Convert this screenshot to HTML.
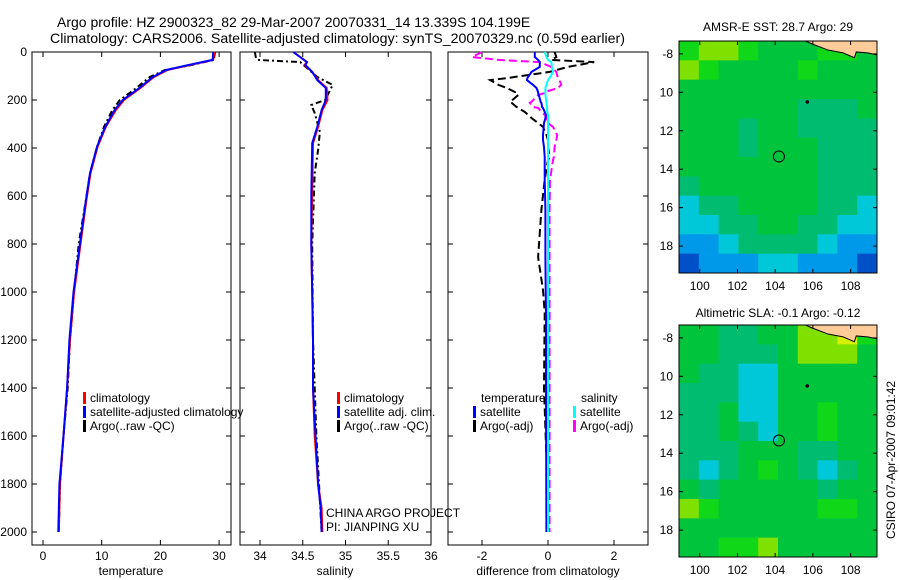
<!DOCTYPE html>
<html><head><meta charset="utf-8"><style>
body{margin:0;background:#fff}
svg{display:block;font-family:"Liberation Sans",sans-serif}
text{font-size:12px;fill:#000}
</style></head><body>
<svg id="fig" width="900" height="580" viewBox="0 0 900 580">
<text x="57" y="27" style="font-size:14px">Argo profile: HZ 2900323_82 29-Mar-2007 20070331_14 13.339S 104.199E</text>
<text x="50" y="43" textLength="575" lengthAdjust="spacingAndGlyphs" style="font-size:14px">Climatology: CARS2006. Satellite-adjusted climatology: synTS_20070329.nc (0.59d earlier)</text>
<text x="778" y="31" text-anchor="middle">AMSR-E SST: 28.7 Argo: 29</text>
<text x="778" y="317" text-anchor="middle">Altimetric SLA: -0.1 Argo: -0.12</text>
<text transform="translate(895,460) rotate(-90)" text-anchor="middle">CSIRO 07-Apr-2007 09:01:42</text>
<g id="plots"></g>
</svg>
<script>
// ---- profile data ----
const depthT = [0,33,54,75,104,150,200,242,312,395,505,617,797,1000,1200,1400,1600,1800,2000];
const tempClim = [29.2,29.0,25.0,21.2,18.9,16.6,13.8,12.4,10.7,9.3,8.1,7.4,6.4,5.3,4.6,4.1,3.5,2.9,2.7];
const tempSat  = [29.0,28.9,24.8,21.0,18.7,16.4,13.6,12.2,10.6,9.2,8.0,7.3,6.3,5.2,4.5,4.1,3.5,2.8,2.6];
const depthArgoT = [0,33,54,75,104,150,200,242,312,395,505,617,797,1000,1200,1400,1600,1800,2000];
const tempArgo = [29.3,29.1,25.3,20.8,18.2,15.9,13.1,11.8,10.4,9.2,8.0,7.3,6.1,5.3,4.6,4.2,3.5,2.9,2.7];

const depthS = [0,42,54,83,117,150,200,242,312,380,600,800,1000,1200,1400,1600,1800,1900,2000];
const salClim = [34.39,34.55,34.52,34.61,34.68,34.78,34.79,34.73,34.68,34.62,34.61,34.60,34.61,34.62,34.62,34.64,34.68,34.72,34.73];
const salSat  = [34.39,34.55,34.53,34.61,34.67,34.77,34.77,34.72,34.67,34.61,34.60,34.60,34.61,34.62,34.62,34.65,34.68,34.71,34.72];
const depthArgoS = [0,20,33,42,104,137,187,200,221,254,333,408,505,800,1200,1600,2000];
const salArgo = [33.94,33.95,33.97,34.47,34.67,34.85,34.78,34.76,34.60,34.64,34.70,34.68,34.64,34.61,34.62,34.66,34.72];

const depthD = [0,21,33,42,62,83,108,117,137,150,167,171,179,208,212,229,233,250,262,275,296,312,346,367,396,437,450,533,658,854,992,1087,1400,2000];
const dTsat  = [-0.4,-0.4,-0.3,-0.25,-0.25,-0.5,-0.62,-0.64,-0.45,-0.35,-0.3,-0.3,-0.28,-0.22,-0.2,-0.18,-0.15,-0.1,-0.06,-0.08,-0.12,-0.13,-0.15,-0.15,-0.12,-0.1,-0.1,-0.1,-0.08,-0.08,-0.07,-0.06,-0.06,-0.05];
const dTargo = [0.2,0.25,0.1,1.4,0.6,0.05,-1.2,-1.75,-1.5,-1.25,-1.0,-1.0,-0.9,-1.15,-1.1,-0.95,-0.9,-0.7,-0.6,-0.5,-0.3,-0.15,-0.05,0.0,0.0,0.05,0.0,-0.1,-0.2,-0.3,-0.15,-0.1,-0.12,0.03];
const dSsat  = [-0.1,-0.05,0.0,0.1,0.12,0.15,0.05,0.0,-0.05,-0.08,-0.08,-0.08,-0.08,-0.05,-0.05,-0.03,-0.03,-0.02,0.0,0.0,0.0,0.0,0.0,0.0,0.0,0.0,0.0,0.0,0.0,0.0,0.0,0.0,0.0,0.0];
const dSargo = [-2.0,-2.3,-1.5,-0.25,0.1,0.25,0.3,0.35,0.4,0.3,-0.1,-0.1,-0.3,-0.5,-0.55,-0.45,-0.3,-0.2,-0.1,-0.05,0.0,0.15,0.28,0.25,0.2,0.18,0.15,0.06,0.05,0.05,0.05,0.05,0.05,0.05];

const tempTicks = [0,10,20,30];
const salTicks = ["34","34.5","35","35.5","36"];
const diffTicks = [-2,0,2];
const depthTicks = [0,200,400,600,800,1000,1200,1400,1600,1800,2000];
const lonTicks = [100,102,104,106,108];
const latTicks = [-8,-10,-12,-14,-16,-18];

// ---- map data (palette indices, rows from north to south) ----
const mapPalette = ["#0050c8","#0098e8","#00c8d8","#00bc70","#00c53c","#10d818","#80e000","#d8f000"];
const sstGrid = [
[5,6,6,5,4,4,4,5,5,4],[6,5,4,4,4,4,5,4,4,4],[4,4,4,4,4,4,4,4,4,4],[4,4,4,4,4,4,3,3,3,4],
[4,4,4,3,4,4,3,3,3,3],[4,4,4,3,4,4,4,3,3,3],[4,4,4,4,4,4,4,3,3,3],[3,4,4,4,4,4,4,3,3,3],
[2,3,3,4,4,4,4,3,3,2],[2,2,3,3,4,4,3,3,2,2],[1,1,2,3,3,3,3,2,1,1],[0,1,1,1,2,2,1,1,1,0]];
const slaGrid = [
[4,4,3,3,4,4,6,6,7,5],[4,4,3,3,3,4,6,6,6,4],[4,3,3,2,2,4,4,4,4,4],[3,3,3,2,2,4,4,4,4,4],
[3,3,4,2,2,4,4,5,4,4],[3,3,4,3,2,4,4,5,4,4],[3,3,3,4,4,4,3,3,4,4],[3,2,3,4,5,4,3,2,3,4],
[4,3,4,4,4,4,4,3,4,4],[6,5,4,4,4,4,4,5,5,4],[4,4,4,4,4,4,4,4,4,4],[4,4,5,5,6,4,4,4,4,4]];
const argoLon = 104.199, argoLat = -13.339;

const NS="http://www.w3.org/2000/svg";
const root=document.getElementById('plots');
function mk(tag,attrs,parent){const e=document.createElementNS(NS,tag);for(const k in attrs)e.setAttribute(k,attrs[k]);(parent||root).appendChild(e);return e;}
function txt(x,y,s,anchor,parent){const t=mk('text',{x:x,y:y,'text-anchor':anchor||'start'},parent);t.textContent=s;return t;}

const Y0=52, YS=0.24; const yD=d=>Y0+d*YS;
const panels=[
 {x0:32,x1:231,xf:v=>43+v*5.87,name:'temperature'},
 {x0:240,x1:431,xf:v=>260+(v-34)*85.5,name:'salinity'},
 {x0:448,x1:648,xf:v=>548+v*33,name:'difference'}];
const AXB=545;

function line(xs,ds,xf,color,dash,name,g){
  let p=xs.map((v,i)=>(i?'L':'M')+xf(v).toFixed(1)+','+yD(ds[i]).toFixed(1)).join('');
  const e=mk('path',{d:p,fill:'none',stroke:color,'stroke-width':2,'stroke-dasharray':dash||'none'},g);
  
  
}

panels.forEach((P,pi)=>{
  const g=mk('g',{});
  
  
  const ax=mk('rect',{x:P.x0,y:Y0,width:P.x1-P.x0,height:AXB-Y0,fill:'#fff',stroke:'#000','stroke-width':1},g);
  
  
  depthTicks.forEach(d=>{
    mk('line',{x1:P.x0,x2:P.x0+5,y1:yD(d),y2:yD(d),stroke:'#000'},g);
    mk('line',{x1:P.x1,x2:P.x1-5,y1:yD(d),y2:yD(d),stroke:'#000'},g);
    if(pi==0){const t=txt(P.x0-5,yD(d)+4,String(d),'end',g);
      
      }
  });
});
function xticks(P,vals,labels){
  vals.forEach((v,i)=>{const x=P.xf(v);
    mk('line',{x1:x,x2:x,y1:AXB,y2:AXB-5,stroke:'#000'});
    mk('line',{x1:x,x2:x,y1:Y0,y2:Y0+5,stroke:'#000'});
    const t=txt(x,AXB+15,labels[i],'middle');
    
    
  });
}
xticks(panels[0],tempTicks,tempTicks.map(String));
xticks(panels[1],salTicks.map(Number),salTicks);
xticks(panels[2],diffTicks,diffTicks.map(String));
[['temperature',131],['salinity',335],['difference from climatology',548]].forEach(([s,x])=>{
  const t=txt(x,575,s,'middle');
  
  
});

line(tempArgo,depthArgoT,panels[0].xf,'#000','6,3,2,3','temp-argo-line');
line(tempClim,depthT,panels[0].xf,'#f00',null,'temp-climatology-line');
line(tempSat,depthT,panels[0].xf,'#00f',null,'temp-satellite-line');
line(salArgo,depthArgoS,panels[1].xf,'#000','6,3,2,3','sal-argo-line');
line(salClim,depthS,panels[1].xf,'#f00',null,'sal-climatology-line');
line(salSat,depthS,panels[1].xf,'#00f',null,'sal-satellite-line');
line(dTargo,depthD,panels[2].xf,'#000','8,4','diff-temp-argo-line');
line(dSargo,depthD,panels[2].xf,'#f0f','8,4','diff-sal-argo-line');
line(dTsat,depthD,panels[2].xf,'#00f',null,'diff-temp-satellite-line');
line(dSsat,depthD,panels[2].xf,'#0ff',null,'diff-sal-satellite-line');

function legend(x,y,color,label){
  const r=mk('rect',{x:x,y:y-10,width:3,height:12,fill:color});
  
  
  const t=txt(x+7,y,label);
  
  
}
legend(83,402,'#f00','climatology');legend(83,416,'#00f','satellite-adjusted climatology');legend(83,430,'#000','Argo(..raw -QC)');
legend(337,402,'#f00','climatology');legend(337,416,'#00f','satellite adj. clim.');legend(337,430,'#000','Argo(..raw -QC)');
{const t1=txt(481,402,'temperature');
 const t2=txt(581,402,'salinity');}
legend(473,416,'#00f','satellite');legend(473,430,'#000','Argo(-adj)');
legend(573,416,'#0ff','satellite');legend(573,430,'#f0f','Argo(-adj)');
{const t=txt(326,517,'CHINA ARGO PROJECT');
 const u=txt(326,531,'PI: JIANPING XU');}

function drawMap(grid,top,bottom,name){
  const L=679,R=877,lon0=98.9,lon1=109.4,lat0=-7.33,lat1=-19.4;
  const xf=lo=>L+(lo-lon0)/(lon1-lon0)*(R-L);
  const yf=la=>top+(la-lat0)/(lat1-lat0)*(bottom-top);
  const g=mk('g',{});
  
  
  const rows=grid.length, cols=grid[0].length;
  const cw=(R-L)/cols, ch=(bottom-top)/rows;
  grid.forEach((row,i)=>row.forEach((v,j)=>{
    const c=mk('rect',{x:L+j*cw,y:top+i*ch,width:cw+0.5,height:ch+0.5,fill:mapPalette[v]},g);
    
    
  }));
  const land=mk('path',{d:`M${xf(105.6)},${top} L${R},${top} L${R},${yf(-8.05)} L${xf(108.9)},${yf(-7.95)} L${xf(108.3)},${yf(-7.9)} L${xf(108.2)},${yf(-8.2)} L${xf(107.6)},${yf(-7.95)} L${xf(106.8)},${yf(-7.8)} L${xf(106)},${yf(-7.5)} Z`,fill:'#ffcc99',stroke:'#000','stroke-width':1},g);
  
  
  const fr=mk('rect',{x:L,y:top,width:R-L,height:bottom-top,fill:'none',stroke:'#000'},g);
  
  
  lonTicks.forEach(lo=>{const x=xf(lo);
    mk('line',{x1:x,x2:x,y1:bottom,y2:bottom-4,stroke:'#000'},g);mk('line',{x1:x,x2:x,y1:top,y2:top+4,stroke:'#000'},g);
    const t=txt(x,bottom+17,String(lo),'middle',g);});
  latTicks.forEach(la=>{const y=yf(la);
    mk('line',{x1:L,x2:L+4,y1:y,y2:y,stroke:'#000'},g);mk('line',{x1:R,x2:R-4,y1:y,y2:y,stroke:'#000'},g);
    const t=txt(L-6,y+4,la==-8?'-8':String(-la),'end',g);});
  const c=mk('circle',{cx:xf(argoLon),cy:yf(argoLat),r:5.5,fill:'none',stroke:'#000'},g);
  
  
  const d=mk('circle',{cx:xf(105.7),cy:yf(-10.5),r:1.8,fill:'#000'},g);
  
  
}
drawMap(sstGrid,41,273,'sst-map');
drawMap(slaGrid,325,557,'sla-map');
</script>
</body></html>
